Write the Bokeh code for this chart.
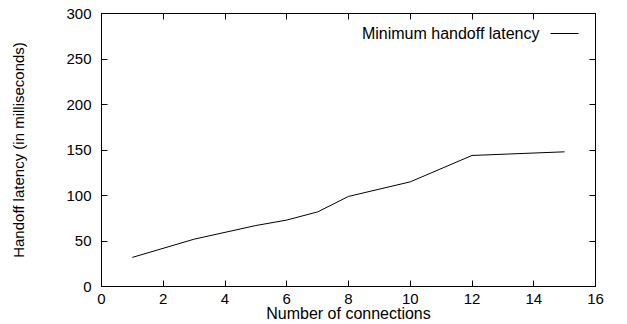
from bokeh.plotting import figure
from bokeh.models import Range1d, LinearAxis, FixedTicker, Label, Arrow, CustomJSTickFormatter
from bokeh.embed import file_html
from bokeh.resources import INLINE

connections = [1, 3, 5, 6, 7, 8, 10, 12, 15]
latency_ms = [32, 52, 67, 73, 82, 99, 115, 144, 148]
x_ticks = [0, 2, 4, 6, 8, 10, 12, 14, 16]
y_ticks = [0, 50, 100, 150, 200, 250, 300]
series_name = "Minimum handoff latency"

FONT = "Liberation Sans"

p = figure(frame_width=494, frame_height=273, output_backend="svg", toolbar_location=None,
           x_range=Range1d(0, 16), y_range=Range1d(0, 300),
           min_border_left=101, min_border_right=32, min_border_top=13, min_border_bottom=38,
           x_axis_label="Number of connections", y_axis_label="Handoff latency (in milliseconds)")
p.grid.visible = False
p.outline_line_color = "black"
p.outline_line_width = 1
p.background_fill_color = "white"
p.border_fill_color = "white"

def style_axis(ax, ticks, show_labels):
    ax.ticker = FixedTicker(ticks=ticks)
    ax.major_tick_in = 6
    ax.major_tick_out = 0
    ax.minor_tick_in = 0
    ax.minor_tick_out = 0
    ax.major_tick_line_color = "black"
    ax.axis_line_color = "black"
    ax.major_label_text_font = FONT
    ax.major_label_text_color = "black"
    ax.major_label_text_font_size = "15px"
    if not show_labels:
        ax.formatter = CustomJSTickFormatter(code="return '';")
        ax.major_label_standoff = 0

xa = p.xaxis[0]
ya = p.yaxis[0]
style_axis(xa, x_ticks, True)
style_axis(ya, y_ticks, True)
xa.major_label_standoff = 7
ya.major_label_standoff = 10
xa.axis_label_text_font = FONT
xa.axis_label_text_font_size = "16px"
xa.axis_label_text_font_style = "normal"
xa.axis_label_text_color = "black"
xa.axis_label_standoff = -2
ya.axis_label_text_font = FONT
ya.axis_label_text_font_size = "15px"
ya.axis_label_text_font_style = "normal"
ya.axis_label_text_color = "black"
ya.axis_label_standoff = 36

top = LinearAxis()
right = LinearAxis()
style_axis(top, x_ticks, False)
style_axis(right, y_ticks, False)
p.add_layout(top, "above")
p.add_layout(right, "right")

p.line(connections, latency_ms, line_color="black", line_width=1)

# legend (text left of sample line, gnuplot style)
p.add_layout(Label(x=438, y=253, x_units="screen", y_units="screen", text=series_name,
                   text_align="right", text_baseline="middle", text_font=FONT,
                   text_font_size="16px", text_color="black"))
p.add_layout(Arrow(x_start=449, y_start=253, x_end=477, y_end=253,
                   start_units="screen", end_units="screen", end=None,
                   line_color="black", line_width=1))

open("out.html", "w").write(file_html(p, INLINE))
